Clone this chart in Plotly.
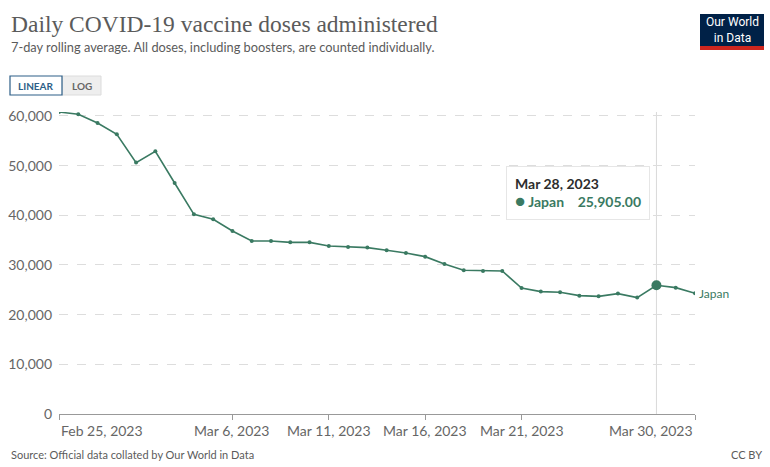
"""Daily COVID-19 vaccine doses administered — Japan (OWID style)."""
import plotly.graph_objects as go

W, H = 770, 467
L, R, T, B = 59, 75, 112, 53

dates = [
    "2023-02-25", "2023-02-26", "2023-02-27", "2023-02-28", "2023-03-01",
    "2023-03-02", "2023-03-03", "2023-03-04", "2023-03-05", "2023-03-06",
    "2023-03-07", "2023-03-08", "2023-03-09", "2023-03-10", "2023-03-11",
    "2023-03-12", "2023-03-13", "2023-03-14", "2023-03-15", "2023-03-16",
    "2023-03-17", "2023-03-18", "2023-03-19", "2023-03-20", "2023-03-21",
    "2023-03-22", "2023-03-23", "2023-03-24", "2023-03-25", "2023-03-26",
    "2023-03-27", "2023-03-28", "2023-03-29", "2023-03-30",
]
doses = [
    60800, 60330, 58580, 56300, 50610,
    52880, 46500, 40200, 39190, 36840,
    34820, 34820, 34560, 34560, 33820,
    33620, 33500, 32950, 32410, 31680,
    30200, 28930, 28790, 28790, 25360,
    24640, 24500, 23830, 23690, 24240,
    23430, 25905, 25440, 24300,
]
country = "Japan"
hover_date = "2023-03-28"
hover_label = "Mar 28, 2023"

x_ticks = ["2023-02-25", "2023-03-06", "2023-03-11", "2023-03-16",
           "2023-03-21", "2023-03-30"]
x_tick_text = ["Feb 25, 2023", "Mar 6, 2023", "Mar 11, 2023", "Mar 16, 2023",
               "Mar 21, 2023", "Mar 30, 2023"]
y_ticks = [0, 10000, 20000, 30000, 40000, 50000, 60000]

GREEN = "#3a7a62"
GREY = "#5b5b5b"
FONT = "Lato"

pw, ph = W - L - R, H - T - B


def px(x):
    return (x - L) / pw


def py(y):
    return (H - B - y) / ph


hi = dates.index(hover_date)

fig = go.Figure()
fig.add_trace(go.Scatter(
    x=dates, y=doses, mode="lines+markers", name=country,
    line=dict(color=GREEN, width=1.6),
    marker=dict(color=GREEN, size=4), hoverinfo="skip"))
fig.add_trace(go.Scatter(
    x=[dates[hi]], y=[doses[hi]], mode="markers", showlegend=False,
    marker=dict(color=GREEN, size=10), hoverinfo="skip"))

# hover guide line
fig.add_shape(type="line", xref="x", yref="paper", x0=dates[hi], x1=dates[hi],
              y0=0, y1=1, line=dict(color="#d9d9d9", width=1), layer="below")

ann = []
# x tick labels: first left aligned, last right aligned
for i, (v, t) in enumerate(zip(x_ticks, x_tick_text)):
    anchor = "left" if i == 0 else ("right" if i == len(x_ticks) - 1 else "center")
    ann.append(dict(x=v, y=0, xref="x", yref="paper", text=t, showarrow=False,
                    xanchor=anchor, yanchor="top", yshift=-6,
                    font=dict(family=FONT, size=14, color="#666")))

# series label
ann.append(dict(x=dates[-1], y=doses[-1], xref="x", yref="y", text=country,
                showarrow=False, xanchor="left", xshift=2,
                font=dict(family=FONT, size=12, color=GREEN)))

# tooltip
ann.append(dict(
    x=dates[hi], y=py(166), xref="x", yref="paper", xanchor="right",
    yanchor="top", xshift=-6, align="left", showarrow=False,
    text=(f"<b>{hover_label}</b><br>"
          f"<span style='color:{GREEN}'><span style='font-size:17px'>●</span>"
          f"<b> {country}    {doses[hi]:,.2f}</b></span>"),
    font=dict(family=FONT, size=14, color="#2d2d2d"),
    bgcolor="white", bordercolor="#e6e6e6", borderwidth=1, borderpad=8))

# titles and footer
ann += [
    dict(x=px(9), y=py(39), xref="paper", yref="paper", xanchor="left",
         yanchor="bottom", showarrow=False,
         text="Daily COVID-19 vaccine doses administered",
         font=dict(family="Liberation Serif", size=23.5, color=GREY)),
    dict(x=px(9), y=py(57), xref="paper", yref="paper", xanchor="left",
         yanchor="bottom", showarrow=False,
         text="7-day rolling average. All doses, including boosters, are counted individually.",
         font=dict(family=FONT, size=12.8, color=GREY)),
    dict(x=px(9), y=py(463), xref="paper", yref="paper", xanchor="left",
         yanchor="bottom", showarrow=False,
         text="Source: Official data collated by Our World in Data",
         font=dict(family=FONT, size=11, color=GREY)),
    dict(x=px(764), y=py(463), xref="paper", yref="paper", xanchor="right",
         yanchor="bottom", showarrow=False, text="CC BY",
         font=dict(family=FONT, size=11, color=GREY)),
    # LINEAR / LOG toggle
    dict(x=px(36), y=py(85.5), xref="paper", yref="paper", showarrow=False,
         xanchor="center", yanchor="middle",
         text="<b>LINEAR</b>", font=dict(family=FONT, size=10, color="#2c5e87")),
    dict(x=px(81.5), y=py(85.5), xref="paper", yref="paper", showarrow=False,
         xanchor="center", yanchor="middle",
         text="<b>LOG</b>", font=dict(family=FONT, size=10, color="#666")),
    # logo
    dict(x=px(732), y=py(30), xref="paper", yref="paper", showarrow=False,
         xanchor="center", yanchor="middle",
         text="Our World<br>in Data", align="center",
         font=dict(family="Roboto", size=12, color="white")),
]

shapes = [
    dict(type="rect", xref="paper", yref="paper", x0=px(62), x1=px(101),
         y0=py(95), y1=py(76), fillcolor="#eeeeee",
         line=dict(color="#dcdcdc", width=1), layer="below"),
    dict(type="rect", xref="paper", yref="paper", x0=px(10), x1=px(62),
         y0=py(95), y1=py(76), fillcolor="white",
         line=dict(color="#2c5e87", width=1.2), layer="below"),
    dict(type="rect", xref="paper", yref="paper", x0=px(700), x1=px(764),
         y0=py(46), y1=py(14), fillcolor="#002147", line=dict(width=0),
         layer="below"),
    dict(type="rect", xref="paper", yref="paper", x0=px(700), x1=px(764),
         y0=py(50), y1=py(46), fillcolor="#ce261e", line=dict(width=0),
         layer="below"),
]
for s in shapes:
    fig.add_shape(**s)

fig.update_layout(
    width=W, height=H, margin=dict(l=L, r=R, t=T, b=B),
    plot_bgcolor="white", paper_bgcolor="white", showlegend=False,
    annotations=ann,
    xaxis=dict(type="date", range=[dates[0], dates[-1]], tickvals=x_ticks,
               showticklabels=False, ticks="outside", ticklen=5,
               tickcolor="#999", showline=True, linecolor="#999",
               showgrid=False, zeroline=False, fixedrange=True,
               automargin=False),
    yaxis=dict(range=[0, 60800], tickvals=y_ticks, tickformat=",",
               showgrid=True, gridcolor="#dddddd", griddash="dash",
               zeroline=False, showline=False, ticks="", ticklabelstandoff=6,
               tickfont=dict(family=FONT, size=14, color="#666"),
               fixedrange=True, automargin=False),
)

# page default body margin would shift the figure by 8px
fig.write_html("out.html", config={"displayModeBar": False},
               post_script="document.body.style.margin='0';")
